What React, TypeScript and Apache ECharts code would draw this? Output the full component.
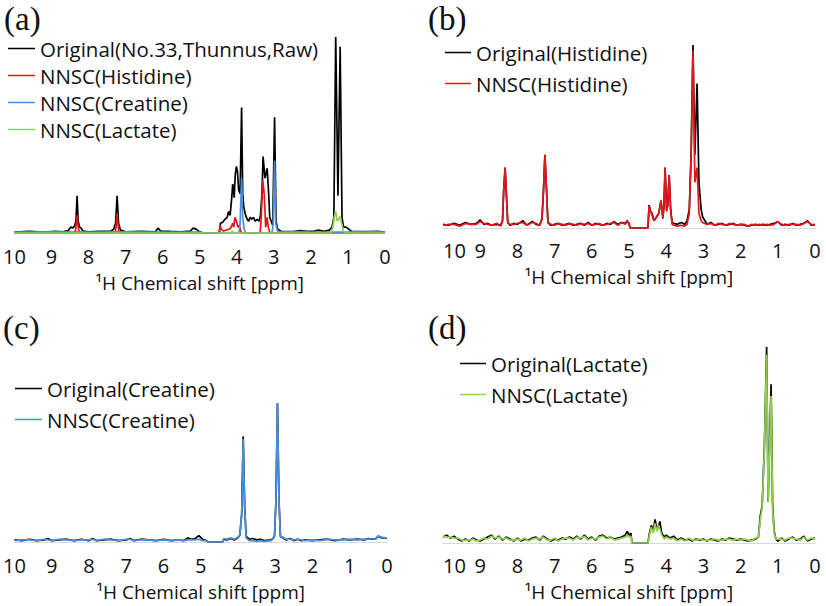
import React, { useEffect, useRef } from "react";
import * as echarts from "echarts";

// ---------- tick labels / names ----------
const PPM_TICKS = [10, 9, 8, 7, 6, 5, 4, 3, 2, 1, 0];
const AXIS_NAME = "¹H Chemical shift [ppm]";
const PANEL_LABELS = ["(a)", "(b)", "(c)", "(d)"];

const LEGEND_A = ["Original(No.33,Thunnus,Raw)", "NNSC(Histidine)", "NNSC(Creatine)", "NNSC(Lactate)"];
const LEGEND_B = ["Original(Histidine)", "NNSC(Histidine)"];
const LEGEND_C = ["Original(Creatine)", "NNSC(Creatine)"];
const LEGEND_D = ["Original(Lactate)", "NNSC(Lactate)"];

// ---------- panel (a): [ppm, relative intensity %] ----------
const A_ORIG = [
  [10, 0.5], [9.6, 0.8], [9.2, 0.5], [8.9, 0.9], [8.7, 0.6], [8.55, 1.2], [8.48, 3], [8.43, 2.5], [8.38, 3.5],
  [8.34, 6], [8.31, 19], [8.28, 6], [8.24, 3], [8.2, 2.5], [8.15, 1], [8.0, 0.6], [7.7, 0.8], [7.4, 0.8],
  [7.32, 2], [7.27, 5], [7.23, 19], [7.19, 5], [7.14, 1.5], [7.0, 0.6], [6.6, 0.8], [6.2, 0.6], [6.12, 2.5],
  [6.06, 1], [5.8, 0.8], [5.5, 0.6], [5.25, 1], [5.18, 2.5], [5.1, 2], [5.02, 0.8], [4.9, 0], [4.47, 0],
  [4.44, 5], [4.38, 5.5], [4.32, 7], [4.26, 8], [4.22, 11], [4.18, 9], [4.14, 17], [4.11, 25], [4.07, 18],
  [4.04, 30], [4.01, 34], [3.98, 31], [3.95, 22], [3.91, 20], [3.87, 64], [3.84, 20], [3.81, 13], [3.76, 9],
  [3.72, 7], [3.68, 6], [3.64, 8], [3.6, 7], [3.55, 8], [3.5, 6], [3.45, 7], [3.4, 6], [3.36, 9], [3.32, 20],
  [3.29, 39], [3.24, 28], [3.18, 33], [3.14, 20], [3.11, 8], [3.07, 6], [3.03, 4], [2.98, 59], [2.94, 6],
  [2.9, 2], [2.8, 0.8], [2.5, 0.6], [2.3, 1.2], [2.1, 0.8], [1.9, 1], [1.8, 1.5], [1.65, 0.8], [1.5, 1.5],
  [1.43, 3], [1.38, 8], [1.33, 100], [1.27, 19], [1.21, 95], [1.16, 8], [1.12, 3], [1.05, 3], [0.98, 2],
  [0.9, 0.8], [0.5, 0.6], [0.2, 0.8], [0, 0.5],
];
const A_HIS = [
  [10, 0], [8.37, 0], [8.34, 3], [8.31, 9], [8.28, 3], [8.25, 0], [7.28, 0], [7.26, 3], [7.23, 10], [7.2, 3],
  [7.17, 0], [4.48, 0], [4.45, 4], [4.42, 2], [4.36, 1], [4.2, 2], [4.15, 3], [4.11, 5], [4.08, 3], [4.05, 8],
  [4.01, 6], [3.97, 3], [3.93, 4], [3.9, 1], [3.86, 0], [3.37, 0], [3.34, 8], [3.3, 27], [3.26, 20], [3.22, 3],
  [3.18, 8], [3.15, 3], [3.12, 1], [3.1, 0], [0, 0],
];
const A_CRE = [
  [10, 0.4], [9.0, 0.6], [8.0, 0.4], [7.0, 0.6], [6.0, 0.4], [5.0, 0.5], [4.9, 0], [3.94, 0], [3.91, 5],
  [3.87, 28], [3.84, 8], [3.8, 2], [3.76, 0], [3.05, 0], [3.02, 4], [2.98, 37], [2.95, 5], [2.9, 1],
  [2.8, 0.5], [2.5, 0.8], [2.0, 0.5], [1.5, 0.5], [1.0, 0.4], [0.5, 0.8], [0, 0.5],
];
const A_LAC = [
  [10, 0], [4.15, 0], [4.12, 1], [4.08, 0], [1.45, 0], [1.41, 3], [1.37, 8], [1.33, 11], [1.29, 6],
  [1.25, 7], [1.21, 8.5], [1.17, 5], [1.12, 1], [1.08, 0], [0, 0],
];

// ---------- panel (b) ----------
const B_ORIG = [
  [10, 2], [9.85, 1.5], [9.7, 2.5], [9.55, 1.5], [9.4, 3], [9.25, 2], [9.1, 2.5], [9.0, 4.4], [8.9, 2],
  [8.8, 2.5], [8.7, 1.5], [8.55, 2], [8.45, 1.5], [8.4, 4], [8.37, 20], [8.33, 33], [8.3, 20], [8.26, 3],
  [8.2, 1.5], [8.1, 2.5], [8.0, 2], [7.85, 4], [7.75, 1.5], [7.6, 3.6], [7.5, 2], [7.4, 1.5], [7.34, 5],
  [7.3, 20], [7.26, 40], [7.22, 22], [7.18, 3], [7.1, 1.5], [7.0, 2], [6.9, 2.5], [6.8, 1.5], [6.7, 2],
  [6.6, 2.5], [6.5, 1.5], [6.4, 2], [6.3, 2.5], [6.2, 1.5], [6.1, 3], [6.0, 1.5], [5.9, 2.5], [5.8, 2],
  [5.7, 1.5], [5.6, 2.5], [5.5, 2], [5.4, 3.5], [5.3, 2], [5.2, 3], [5.1, 2.5], [5.05, 4], [5.0, 2.5],
  [4.97, 0], [4.49, 0], [4.46, 12.5], [4.42, 9], [4.38, 8], [4.33, 4], [4.26, 6], [4.2, 8], [4.14, 15],
  [4.09, 6], [4.06, 12], [4.03, 33], [3.99, 10], [3.96, 12], [3.92, 29], [3.88, 10], [3.84, 3], [3.8, 2.5],
  [3.7, 2], [3.6, 3], [3.5, 2], [3.44, 4], [3.38, 10], [3.33, 40], [3.28, 100], [3.23, 40], [3.17, 79],
  [3.12, 25], [3.06, 10], [3.02, 6], [2.96, 4], [2.9, 2], [2.8, 3], [2.7, 1.5], [2.6, 2], [2.5, 2.5],
  [2.4, 1.5], [2.3, 2], [2.2, 2.5], [2.1, 1.5], [2.0, 2], [1.9, 1.5], [1.8, 1], [1.7, 1.5], [1.6, 2],
  [1.5, 1.5], [1.4, 2], [1.3, 1.5], [1.2, 2], [1.1, 2.5], [1.0, 3.5], [0.9, 1.5], [0.8, 2], [0.7, 1.5],
  [0.6, 2.5], [0.5, 1.5], [0.4, 2], [0.3, 2.5], [0.2, 4], [0.1, 1.5], [0, 2],
];
const B_HIS = [
  [10, 1.5], [9.85, 2], [9.7, 2], [9.55, 1], [9.4, 2.5], [9.25, 2], [9.1, 2], [9.0, 3.5], [8.9, 2.5],
  [8.8, 2], [8.7, 1.5], [8.55, 2.5], [8.45, 1], [8.4, 4], [8.37, 20], [8.33, 33], [8.3, 20], [8.26, 3],
  [8.2, 2], [8.1, 2], [8.0, 2.5], [7.85, 3], [7.75, 1.5], [7.6, 3], [7.5, 2.5], [7.4, 1.5], [7.34, 5],
  [7.3, 20], [7.26, 40], [7.22, 22], [7.18, 3], [7.1, 2], [7.0, 1.5], [6.9, 2.5], [6.8, 2], [6.7, 1.5],
  [6.6, 2.5], [6.5, 2], [6.4, 1.5], [6.3, 2.5], [6.2, 2], [6.1, 2.5], [6.0, 1.5], [5.9, 2], [5.8, 2.5],
  [5.7, 1.5], [5.6, 2], [5.5, 2.5], [5.4, 3], [5.3, 1.5], [5.2, 3], [5.1, 2], [5.05, 3.5], [5.0, 2.5],
  [4.97, 0], [4.49, 0], [4.46, 12], [4.42, 9], [4.38, 7], [4.33, 4], [4.26, 6], [4.2, 8], [4.14, 15],
  [4.09, 5], [4.06, 12], [4.03, 33], [3.99, 9], [3.96, 12], [3.92, 29], [3.88, 9], [3.84, 2], [3.8, 1.5],
  [3.7, 1], [3.6, 1.5], [3.5, 1], [3.44, 2], [3.38, 8], [3.33, 40], [3.28, 97], [3.23, 25], [3.17, 33],
  [3.12, 8], [3.06, 4], [3.02, 3], [2.96, 2.5], [2.9, 2], [2.8, 2.5], [2.7, 1.5], [2.6, 2.5], [2.5, 2],
  [2.4, 1.5], [2.3, 2.5], [2.2, 2], [2.1, 1.5], [2.0, 2], [1.9, 2], [1.8, 1], [1.7, 2], [1.6, 1.5],
  [1.5, 2], [1.4, 1.5], [1.3, 2], [1.2, 1.5], [1.1, 2], [1.0, 3.5], [0.9, 2], [0.8, 1.5], [0.7, 2],
  [0.6, 2], [0.5, 2], [0.4, 1.5], [0.3, 2.5], [0.2, 3.5], [0.1, 2], [0, 1.5],
];

// ---------- panel (c) ----------
const C_ORIG = [
  [10, 1.5], [9.8, 1], [9.6, 2], [9.4, 1], [9.2, 1.5], [9.1, 2.5], [9.0, 1], [8.8, 1.5], [8.6, 2], [8.4, 1],
  [8.2, 2], [8.0, 1], [7.9, 2.5], [7.8, 1], [7.6, 1.5], [7.4, 2], [7.2, 1], [7.0, 1.5], [6.9, 2.5], [6.8, 1],
  [6.6, 2], [6.4, 1.5], [6.2, 1], [6.0, 2], [5.8, 1], [5.6, 1.5], [5.45, 1], [5.35, 3], [5.25, 2], [5.15, 2.5],
  [5.05, 4.5], [4.95, 2], [4.85, 1], [4.8, 0], [4.41, 0], [4.38, 2], [4.3, 1.5], [4.2, 2.5], [4.1, 1.5],
  [4.0, 3], [3.95, 5], [3.9, 20], [3.86, 76], [3.82, 25], [3.78, 4], [3.7, 2], [3.6, 2.5], [3.5, 1.5],
  [3.4, 2], [3.3, 1], [3.1, 1.5], [3.02, 4], [2.98, 30], [2.94, 100], [2.9, 30], [2.86, 4], [2.8, 3],
  [2.7, 1.5], [2.6, 2.5], [2.5, 1], [2.4, 2], [2.3, 1], [2.2, 1.5], [2.0, 1], [1.8, 1.5], [1.6, 2], [1.4, 1],
  [1.2, 2], [1.0, 1.5], [0.8, 2], [0.6, 1.5], [0.5, 2.5], [0.4, 2], [0.3, 2.5], [0.24, 4], [0.15, 3],
  [0.05, 3], [0, 2.5],
];
const C_CRE = [
  [10, 1], [9.8, 1.5], [9.6, 1.5], [9.4, 1], [9.2, 2], [9.1, 1.5], [9.0, 1], [8.8, 2], [8.6, 1.5], [8.4, 1],
  [8.2, 1.5], [8.0, 1.5], [7.9, 2], [7.8, 1], [7.6, 2], [7.4, 1.5], [7.2, 1], [7.0, 2], [6.9, 2], [6.8, 1],
  [6.6, 1.5], [6.4, 1.5], [6.2, 1], [6.0, 1.5], [5.8, 1], [5.6, 1.5], [5.45, 1], [5.35, 1.5], [5.25, 1.5],
  [5.15, 1.5], [5.05, 2], [4.95, 1], [4.85, 1], [4.8, 0], [4.41, 0], [4.38, 2.5], [4.3, 2], [4.2, 3],
  [4.1, 2], [4.0, 3.5], [3.95, 5], [3.9, 20], [3.86, 74], [3.82, 25], [3.78, 3], [3.7, 1], [3.6, 1],
  [3.5, 0.5], [3.4, 1], [3.3, 0.5], [3.1, 1], [3.02, 4], [2.98, 30], [2.94, 100], [2.9, 30], [2.86, 4],
  [2.8, 3.5], [2.7, 2], [2.6, 2], [2.5, 1.5], [2.4, 2], [2.3, 1.5], [2.2, 1], [2.0, 1.5], [1.8, 1], [1.6, 2],
  [1.4, 1.5], [1.2, 1.5], [1.0, 2], [0.8, 1.5], [0.6, 2], [0.5, 2], [0.4, 2.5], [0.3, 2], [0.24, 4.5],
  [0.15, 3.5], [0.05, 3], [0, 3],
];

// ---------- panel (d) ----------
const D_ORIG = [
  [10, 3], [9.9, 4], [9.8, 2.5], [9.7, 3.5], [9.6, 2], [9.5, 1], [9.4, 2], [9.3, 1], [9.2, 2.5], [9.1, 1.5],
  [9.0, 1], [8.9, 2], [8.8, 3], [8.7, 4], [8.6, 2], [8.5, 3.5], [8.4, 1.5], [8.3, 3], [8.2, 2], [8.1, 1],
  [8.0, 2.5], [7.9, 1], [7.8, 2], [7.7, 1.5], [7.6, 2.5], [7.5, 3], [7.4, 1.5], [7.3, 3.5], [7.2, 2],
  [7.1, 1], [7.0, 2], [6.9, 1.5], [6.8, 2.5], [6.7, 2], [6.6, 3], [6.5, 2], [6.4, 3.5], [6.3, 2], [6.2, 4],
  [6.1, 2], [6.0, 3], [5.9, 1.5], [5.8, 3.5], [5.7, 4], [5.6, 2.5], [5.5, 3], [5.4, 2], [5.3, 2.5],
  [5.2, 3], [5.1, 4], [5.05, 6], [5.0, 4], [4.95, 5], [4.92, 0], [4.49, 0], [4.45, 5], [4.4, 9], [4.35, 6],
  [4.3, 12], [4.25, 7], [4.2, 9], [4.17, 11], [4.12, 5], [4.05, 3], [4.0, 4], [3.9, 2.5], [3.8, 3.5],
  [3.7, 1.5], [3.6, 2.5], [3.5, 1.5], [3.4, 2], [3.3, 1], [3.2, 2], [3.1, 1.5], [3.0, 2], [2.9, 1],
  [2.8, 2], [2.7, 1.5], [2.6, 1], [2.5, 2], [2.4, 1.5], [2.3, 2.5], [2.2, 2], [2.1, 1.5], [2.0, 2],
  [1.9, 1.5], [1.8, 1], [1.7, 1.5], [1.6, 2], [1.52, 3], [1.47, 14], [1.42, 19], [1.36, 50], [1.3, 100],
  [1.26, 21], [1.22, 50], [1.18, 81], [1.14, 20], [1.1, 6], [1.05, 2], [1.0, 1], [0.9, 2.5], [0.8, 1],
  [0.7, 2], [0.6, 3], [0.5, 1.5], [0.4, 2], [0.3, 3.5], [0.2, 1], [0.1, 2], [0, 2.5],
];
const D_LAC = [
  [10, 3.5], [9.9, 3], [9.8, 3], [9.7, 2.5], [9.6, 2.5], [9.5, 1.5], [9.4, 1.5], [9.3, 1.5], [9.2, 2],
  [9.1, 1], [9.0, 1.5], [8.9, 2.5], [8.8, 2], [8.7, 3.5], [8.6, 2.5], [8.5, 3], [8.4, 2], [8.3, 2.5],
  [8.2, 1.5], [8.1, 1.5], [8.0, 2], [7.9, 1.5], [7.8, 2.5], [7.7, 1], [7.6, 2], [7.5, 2.5], [7.4, 2],
  [7.3, 3], [7.2, 1.5], [7.1, 1.5], [7.0, 2.5], [6.9, 1], [6.8, 2], [6.7, 2.5], [6.6, 2.5], [6.5, 1.5],
  [6.4, 3], [6.3, 2.5], [6.2, 3.5], [6.1, 1.5], [6.0, 2.5], [5.9, 2], [5.8, 3], [5.7, 3.5], [5.6, 2],
  [5.5, 3.5], [5.4, 1.5], [5.3, 2], [5.2, 2.5], [5.1, 3], [5.05, 4], [5.0, 3], [4.95, 3.5], [4.92, 0],
  [4.49, 0], [4.45, 4], [4.4, 8], [4.35, 5], [4.3, 10], [4.25, 6], [4.2, 9], [4.17, 7], [4.12, 4],
  [4.05, 2], [4.0, 3], [3.9, 2], [3.8, 2.5], [3.7, 1], [3.6, 2], [3.5, 1], [3.4, 2.5], [3.3, 1.5],
  [3.2, 1.5], [3.1, 2], [3.0, 1.5], [2.9, 1.5], [2.8, 1.5], [2.7, 2], [2.6, 1.5], [2.5, 1.5], [2.4, 2],
  [2.3, 2], [2.2, 1.5], [2.1, 2], [2.0, 1.5], [1.9, 2], [1.8, 1.5], [1.7, 1], [1.6, 2.5], [1.52, 3],
  [1.47, 12], [1.42, 18], [1.36, 48], [1.3, 96], [1.26, 21], [1.22, 48], [1.18, 75], [1.14, 18], [1.1, 5],
  [1.05, 2], [1.0, 2], [0.9, 2], [0.8, 1.5], [0.7, 2.5], [0.6, 2.5], [0.5, 2], [0.4, 1.5], [0.3, 3],
  [0.2, 1.5], [0.1, 2.5], [0, 2],
];

const BLACK = "#000000";
const RED = "#E8141C";
const BLUE = "#4A8FDA";
const GREEN = "#8FD14B";
const FONT = "'Open Sans', 'Noto Sans', sans-serif";

export default function App() {
  const ref = useRef<HTMLDivElement>(null);

  useEffect(() => {
    document.body.style.margin = "0";
    if (!ref.current) return;
    const chart = echarts.init(ref.current, undefined, { renderer: "svg" });

    // panel geometry: left, width, top (peak=100), height (baseline)
    const grids = [
      { left: 13, width: 372, top: 37, height: 196 },
      { left: 443, width: 372, top: 45, height: 183 },
      { left: 13, width: 374, top: 403, height: 139 },
      { left: 443, width: 372, top: 347, height: 196 },
    ];
    const labelMargins = [13, 12, 13.5, 12.5];
    const nameGaps = [40.5, 39.5, 40.5, 39.5];
    const alignMax = ["center", "left", "center", "left"];

    const xAxes = grids.map((_, i) => ({
      type: "value",
      gridIndex: i,
      min: 0,
      max: 10,
      interval: 1,
      inverse: true,
      name: AXIS_NAME,
      nameLocation: "middle",
      nameGap: nameGaps[i],
      nameTextStyle: { fontFamily: FONT, fontSize: 19, color: "#111", verticalAlign: "top", lineHeight: 19 },
      axisLine: { show: true, lineStyle: { color: "#d9d9d9", width: 1 } },
      axisTick: { show: false },
      splitLine: { show: false },
      axisLabel: {
        margin: labelMargins[i],
        fontFamily: FONT,
        fontSize: 20,
        lineHeight: 20,
        color: "#111",
        alignMaxLabel: alignMax[i],
        formatter: (v: number) => (PPM_TICKS.includes(v) ? String(v) : ""),
      },
    }));
    const yAxes = grids.map((_, i) => ({
      type: "value",
      gridIndex: i,
      min: 0,
      max: 100,
      show: false,
    }));

    const mk = (name: string, data: number[][], color: string, idx: number, z: number) => ({
      type: "line",
      name,
      data,
      xAxisIndex: idx,
      yAxisIndex: idx,
      showSymbol: false,
      symbol: "none",
      silent: true,
      z,
      color,
      lineStyle: { color, width: 1.7 },
    });

    const series = [
      mk(LEGEND_A[0], A_ORIG, BLACK, 0, 2),
      mk(LEGEND_A[1], A_HIS, RED, 0, 3),
      mk(LEGEND_A[2], A_CRE, BLUE, 0, 4),
      mk(LEGEND_A[3], A_LAC, GREEN, 0, 5),
      mk(LEGEND_B[0], B_ORIG, BLACK, 1, 2),
      mk(LEGEND_B[1], B_HIS, RED, 1, 3),
      mk(LEGEND_C[0], C_ORIG, BLACK, 2, 2),
      mk(LEGEND_C[1], C_CRE, BLUE, 2, 3),
      mk(LEGEND_D[0], D_ORIG, BLACK, 3, 2),
      mk(LEGEND_D[1], D_LAC, GREEN, 3, 3),
    ];

    const legendBase = {
      orient: "vertical",
      icon: "rect",
      itemHeight: 1.5,
      selectedMode: false,
      padding: 0,
      textStyle: { fontFamily: FONT, fontSize: 20.5, color: "#111", lineHeight: 20 },
    };
    const legends = [
      { ...legendBase, data: LEGEND_A, left: 8, top: 38, itemWidth: 27, itemGap: 6 },
      { ...legendBase, data: LEGEND_B, left: 445, top: 42, itemWidth: 26, itemGap: 10 },
      { ...legendBase, data: LEGEND_C, left: 15, top: 378, itemWidth: 27, itemGap: 10 },
      { ...legendBase, data: LEGEND_D, left: 460, top: 353, itemWidth: 26, itemGap: 10 },
    ];

    const labelPos = [
      { left: 4, top: 2 },
      { left: 428, top: 2 },
      { left: 3, top: 311 },
      { left: 428, top: 311 },
    ];
    const titles = PANEL_LABELS.map((t, i) => ({
      text: t,
      left: labelPos[i].left,
      top: labelPos[i].top,
      padding: 0,
      textStyle: { fontFamily: "'Liberation Serif', 'Times New Roman', serif", fontSize: 33, fontWeight: "normal", color: "#111" },
    }));

    chart.setOption({
      animation: false,
      backgroundColor: "#ffffff",
      title: titles,
      grid: grids,
      xAxis: xAxes,
      yAxis: yAxes,
      legend: legends,
      series,
    });

    return () => chart.dispose();
  }, []);

  return (
    <div
      ref={ref}
      style={{ position: "absolute", left: 0, top: 0, width: 826, height: 606, background: "#fff" }}
    />
  );
}
